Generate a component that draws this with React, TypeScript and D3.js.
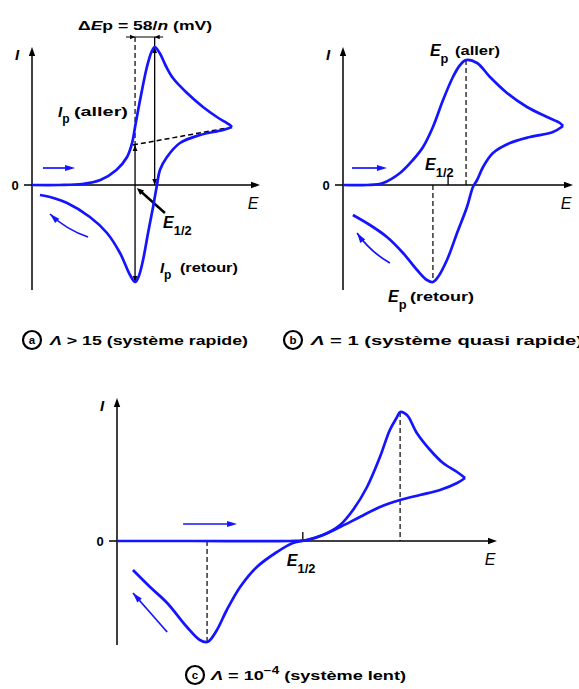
import React from 'react';
import * as d3 from 'd3';

type Pt = [number, number];

// E : position le long de l'axe des potentiels (0 à 100), I : courant (0 = axe horizontal)
const allerA: Pt[] = [[0, 0], [12, 0], [22, 0.01], [30, 0.05], [37, 0.15], [41.7, 0.28], [43.9, 0.42], [45.2, 0.58], [47.4, 0.85], [50.4, 1.18], [52.4, 1.33], [53.8, 1.38], [56, 1.32], [58.5, 1.2], [61.8, 1.07], [68, 0.92], [75, 0.78], [81.1, 0.68], [86.8, 0.6], [87.7, 0.58]];
const retourA: Pt[] = [[87.7, 0.58], [83.8, 0.55], [73.7, 0.5], [64.9, 0.42], [59.2, 0.28], [56.1, 0.15], [54.8, 0], [53.1, -0.22], [50.9, -0.48], [48.7, -0.75], [46.7, -0.92], [45.2, -0.97], [43, -0.9], [38.6, -0.68], [32.9, -0.48], [25.4, -0.32], [15.4, -0.18], [7.9, -0.12], [3.5, -0.1]];

const allerB: Pt[] = [[0, 0], [10.4, 0], [17.4, 0.02], [24.8, 0.12], [30.4, 0.25], [34.8, 0.38], [39.1, 0.58], [43.5, 0.85], [47.8, 1.08], [50.9, 1.2], [53.5, 1.25], [58.3, 1.22], [63.9, 1.08], [71.3, 0.92], [80, 0.78], [88.7, 0.68], [94.3, 0.62], [95.7, 0.59]];
const retourB: Pt[] = [[95.7, 0.59], [91.3, 0.53], [81.3, 0.48], [72.6, 0.42], [65.2, 0.32], [60.9, 0.18], [58.3, 0.05], [56.5, -0.02], [53.9, -0.22], [49.6, -0.48], [45.2, -0.75], [41.3, -0.92], [39.1, -0.97], [36.5, -0.95], [32.2, -0.85], [26.1, -0.68], [19.1, -0.52], [11.7, -0.4], [4.3, -0.3]];

const allerC: Pt[] = [[0, 0], [20, 0], [45.5, 0], [50, 0.01], [54.2, 0.06], [58.7, 0.16], [62.1, 0.31], [65.8, 0.54], [69.2, 0.84], [71.8, 1.11], [73.7, 1.24], [74.5, 1.29], [76.3, 1.26], [78.9, 1.08], [82.4, 0.91], [85.8, 0.78], [89.5, 0.69], [91.6, 0.63]];
const retourC: Pt[] = [[91.6, 0.63], [89.5, 0.58], [85, 0.51], [79.7, 0.46], [74.5, 0.41], [69.2, 0.34], [63.9, 0.24], [58.7, 0.14], [54.2, 0.06], [50, 0.01], [46.3, -0.02], [42.1, -0.11], [36.8, -0.26], [32.4, -0.46], [28.9, -0.69], [26.3, -0.89], [24.5, -0.99], [23.7, -1.01], [21.8, -0.99], [18.4, -0.86], [13.2, -0.62], [8.7, -0.46], [4.2, -0.29]];

// potentiels de pic (aller, retour), E1/2 et courants de pic
const picsA = { aller: 53.8, retour: 45.2, demi: 45.2, Ia: 1.38, Ir: -0.97 };
const picsB = { aller: 53.5, retour: 39.1, demi: 45.7, Ia: 1.25, Ir: -0.97 };
const picsC = { aller: 74.5, retour: 23.7, demi: 48.9, Ia: 1.29, Ir: -1.01 };

// flèches bleues du sens de balayage
const flechesA = { aller: [[4.8, 0.17], [18.9, 0.17]] as Pt[], retour: [[24.6, -0.52], [7.9, -0.29]] as Pt[] };
const flechesB = { aller: [[3.9, 0.17], [19.1, 0.17]] as Pt[], retour: [[20.4, -0.78], [6.1, -0.48]] as Pt[] };
const flechesC = { aller: [[17.4, 0.17], [31.6, 0.17]] as Pt[], retour: [[13.2, -0.91], [4.2, -0.52]] as Pt[] };

const lettres = ['a', 'b', 'c'];
const legendes = ['Λ > 15 (système rapide)', 'Λ = 1 (système quasi rapide)', 'Λ = 10'];

const W = 579, H = 689;
const BLUE = '#1414ff';
const FONT = "'Liberation Sans', Arial, Helvetica, sans-serif";

const cadres = [
  { x0: 32, x1: 260, y0: 185, top: 47, bottom: 290 },
  { x0: 343, x1: 573, y0: 185, top: 47, bottom: 290 },
  { x0: 117, x1: 497, y0: 541, top: 398, bottom: 645 },
];
const legendePos = [
  { cx: 32, cy: 340, x: 50, len: 198 },
  { cx: 293, cy: 340, x: 311, len: 272 },
  { cx: 195, cy: 675, x: 211, len: 195 },
];

function head(x: number, y: number, ang: number, len = 8, half = 3): string {
  const c = Math.cos(ang), s = Math.sin(ang);
  const bx = x - len * c, by = y - len * s;
  return `${x},${y} ${bx - half * s},${by + half * c} ${bx + half * s},${by - half * c}`;
}

function Label({ x, y, main, sub, rest, restDx = 24, restLen = 0, size = 15 }: {
  x: number; y: number; main: string; sub: string; rest?: string; restDx?: number; restLen?: number; size?: number;
}) {
  return (
    <g fontFamily={FONT} fontWeight="bold" fill="#000">
      <text x={x} y={y}>
        <tspan fontStyle="italic" fontSize={size}>{main}</tspan>
        <tspan fontSize={size * 0.8} dy={size * 0.42}>{sub}</tspan>
      </text>
      {rest && (
        <text x={x + restDx} y={y - 1} fontSize={12} textLength={restLen} lengthAdjust="spacingAndGlyphs">{rest}</text>
      )}
    </g>
  );
}

type Sc = d3.ScaleLinear<number, number>;

function Panel({ i, aller, retour, fleches, extra }: {
  i: number; aller: Pt[]; retour: Pt[]; fleches: { aller: Pt[]; retour: Pt[] };
  extra: (sx: Sc, sy: Sc) => React.ReactNode;
}) {
  const c = cadres[i];
  const sx = d3.scaleLinear().domain([0, 100]).range([c.x0, c.x1]);
  const sy = d3.scaleLinear().domain([0, 1]).range([c.y0, c.y0 - 100]);
  const line = d3.line<Pt>().x(d => sx(d[0])).y(d => sy(d[1])).curve(d3.curveCatmullRom.alpha(0.5));
  const X0 = sx(0), X1 = sx(100), Y0 = sy(0);

  const fa = fleches.aller.map(d => [sx(d[0]), sy(d[1])]);
  const fr = fleches.retour.map(d => [sx(d[0]), sy(d[1])]);
  const mx = (fr[0][0] + fr[1][0]) / 2, my = (fr[0][1] + fr[1][1]) / 2;
  const dx = fr[1][0] - fr[0][0], dy = fr[1][1] - fr[0][1];
  const L = Math.hypot(dx, dy);
  const bend = i === 2 ? 0 : 5;
  const qx = mx + (dy / L) * bend, qy = my - (dx / L) * bend;
  const angR = Math.atan2(fr[1][1] - qy, fr[1][0] - qx);
  const lg = legendePos[i];

  return (
    <g>
      {/* axes */}
      <line x1={X0} x2={X0} y1={c.bottom} y2={c.top + 6} stroke="#000" strokeWidth={1.5} />
      <polygon points={head(X0, c.top, -Math.PI / 2, 9, 3.2)} fill="#000" />
      <line x1={X0 - 8} x2={X1 - 6} y1={Y0} y2={Y0} stroke="#000" strokeWidth={1.5} />
      <polygon points={head(X1, Y0, 0, 9, 3.2)} fill="#000" />
      <text x={X0 - 17} y={Y0 + 5} fontFamily={FONT} fontWeight="bold" fontSize={13} textAnchor="middle">0</text>
      <text x={X0 - 15} y={c.top + 13} fontFamily={FONT} fontWeight="bold" fontStyle="italic" fontSize={15} textAnchor="middle">I</text>
      <text x={X1 - 7} y={Y0 + 24} fontFamily={FONT} fontStyle="italic" fontSize={16} textAnchor="middle">E</text>

      {extra(sx, sy)}

      {/* voltampérogramme */}
      <path d={line(aller) ?? ''} fill="none" stroke={BLUE} strokeWidth={2.7} strokeLinejoin="round" />
      <path d={line(retour) ?? ''} fill="none" stroke={BLUE} strokeWidth={2.7} strokeLinejoin="round" />

      {/* sens de balayage */}
      <line x1={fa[0][0]} y1={fa[0][1]} x2={fa[1][0] - 6} y2={fa[1][1]} stroke={BLUE} strokeWidth={1.7} />
      <polygon points={head(fa[1][0], fa[1][1], 0, 10, 3)} fill={BLUE} />
      <path d={`M${fr[0][0]},${fr[0][1]} Q${qx},${qy} ${fr[1][0]},${fr[1][1]}`} fill="none" stroke={BLUE} strokeWidth={1.7} />
      <polygon points={head(fr[1][0], fr[1][1], angR, 10, 3)} fill={BLUE} />

      {/* légende */}
      <circle cx={lg.cx} cy={lg.cy} r={9} fill="none" stroke="#000" strokeWidth={2.2} />
      <text x={lg.cx} y={lg.cy + 4} fontFamily={FONT} fontWeight="bold" fontSize={11.5} textAnchor="middle">{lettres[i]}</text>
      <text x={lg.x} y={lg.cy + 5} fontFamily={FONT} fontWeight="bold" fontSize={13.5} textLength={lg.len} lengthAdjust="spacingAndGlyphs">
        {i === 2 ? (
          <>
            <tspan fontStyle="italic">Λ</tspan>
            <tspan> = 10</tspan>
            <tspan fontSize={10} dy={-6}>−4</tspan>
            <tspan dy={6}> (système lent)</tspan>
          </>
        ) : (
          <>
            <tspan fontStyle="italic">Λ</tspan>
            <tspan>{legendes[i].slice(1)}</tspan>
          </>
        )}
      </text>
    </g>
  );
}

const dash = { stroke: '#000', strokeWidth: 1.2, strokeDasharray: '5 3' };

export default function App() {
  return (
    <svg width={W} height={H} style={{ position: 'absolute', left: 0, top: 0, background: '#fff' }}>
      <Panel i={0} aller={allerA} retour={retourA} fleches={flechesA} extra={(sx, sy) => (
        <g>
          <line x1={sx(picsA.retour)} x2={sx(picsA.retour)} y1={sy(1.48)} y2={sy(0.4)} {...dash} />
          <line x1={sx(picsA.retour)} x2={sx(picsA.retour)} y1={sy(0.4)} y2={sy(picsA.Ir)} stroke="#000" strokeWidth={1.3} />
          <polygon points={head(sx(picsA.retour), sy(0.4), -Math.PI / 2, 6, 2.4)} fill="#000" />
          <polygon points={head(sx(picsA.retour), sy(picsA.Ir), Math.PI / 2, 6, 2.4)} fill="#000" />
          <line x1={sx(picsA.aller)} x2={sx(picsA.aller)} y1={sy(1.48)} y2={sy(0)} stroke="#000" strokeWidth={1.3} />
          <polygon points={head(sx(picsA.aller), sy(0), Math.PI / 2, 6, 2.4)} fill="#000" />
          <polygon points={head(sx(picsA.aller), sy(picsA.Ia), -Math.PI / 2, 6, 2.4)} fill="#000" />
          <line x1={sx(41.2)} x2={sx(57.5)} y1={sy(1.48)} y2={sy(1.48)} stroke="#000" strokeWidth={1.2} />
          <polygon points={head(sx(picsA.retour), sy(1.48), 0, 5, 2.2)} fill="#000" />
          <polygon points={head(sx(picsA.aller), sy(1.48), Math.PI, 5, 2.2)} fill="#000" />
          <line x1={sx(44.3)} y1={sy(0.4)} x2={sx(85.5)} y2={sy(0.57)} {...dash} strokeWidth={1.5} />
          <line x1={sx(58.3)} y1={sy(-0.28)} x2={sx(47.5)} y2={sy(-0.06)} stroke="#000" strokeWidth={2.4} />
          <polygon points={head(sx(46), sy(-0.03), Math.atan2(sy(-0.03) - sy(-0.28), sx(46) - sx(58.3)), 7, 3)} fill="#000" />
          <text x={sx(20.2)} y={sy(1.55)} fontFamily={FONT} fontWeight="bold" fontSize={13} textLength={134} lengthAdjust="spacingAndGlyphs">
            <tspan>Δ</tspan><tspan fontStyle="italic">E</tspan><tspan>p = 58/</tspan><tspan fontStyle="italic">n</tspan><tspan> (mV)</tspan>
          </text>
          <Label x={sx(11.4)} y={sy(0.68)} main="I" sub="p" rest="(aller)" restDx={16} restLen={54} />
          <Label x={sx(56.1)} y={sy(-0.88)} main="I" sub="p" rest="(retour)" restDx={20} restLen={58} />
          <Label x={sx(57.5)} y={sy(-0.43)} main="E" sub="1/2" size={16} />
        </g>
      )} />
      <Panel i={1} aller={allerB} retour={retourB} fleches={flechesB} extra={(sx, sy) => (
        <g>
          <line x1={sx(picsB.aller)} x2={sx(picsB.aller)} y1={sy(picsB.Ia)} y2={sy(0)} {...dash} />
          <line x1={sx(picsB.retour)} x2={sx(picsB.retour)} y1={sy(0)} y2={sy(picsB.Ir)} {...dash} />
          <line x1={sx(picsB.demi)} x2={sx(picsB.demi)} y1={sy(0)} y2={sy(0.1)} stroke="#000" strokeWidth={1.3} />
          <Label x={sx(37.8)} y={sy(1.29)} main="E" sub="p" rest="(aller)" restDx={25} restLen={45} size={16} />
          <Label x={sx(35.7)} y={sy(0.15)} main="E" sub="1/2" size={16} />
          <Label x={sx(19.6)} y={sy(-1.17)} main="E" sub="p" rest="(retour)" restDx={22} restLen={64} size={16} />
        </g>
      )} />
      <Panel i={2} aller={allerC} retour={retourC} fleches={flechesC} extra={(sx, sy) => (
        <g>
          <line x1={sx(picsC.aller)} x2={sx(picsC.aller)} y1={sy(picsC.Ia)} y2={sy(0)} {...dash} />
          <line x1={sx(picsC.retour)} x2={sx(picsC.retour)} y1={sy(0)} y2={sy(picsC.Ir)} {...dash} />
          <line x1={sx(picsC.demi)} x2={sx(picsC.demi)} y1={sy(0)} y2={sy(0.09)} stroke="#000" strokeWidth={1.3} />
          <Label x={sx(44.7)} y={sy(-0.25)} main="E" sub="1/2" size={16} />
        </g>
      )} />
    </svg>
  );
}
